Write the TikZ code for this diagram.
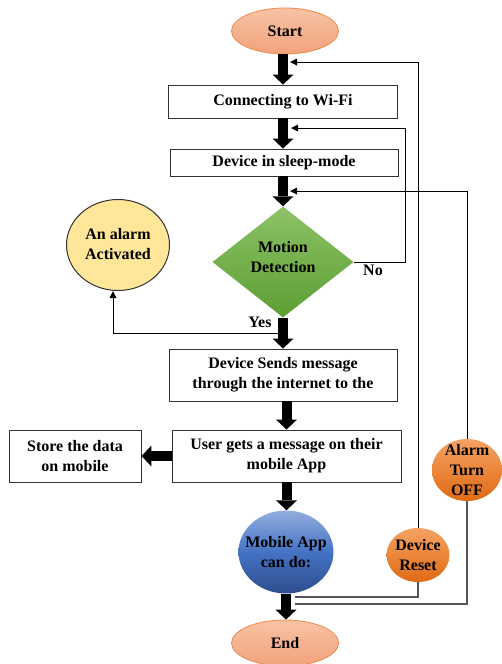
\documentclass[tikz,border=0pt]{standalone}
\usepackage{fontspec}
\setmainfont{Liberation Serif}
\usetikzlibrary{shapes.geometric,arrows.meta,calc}
\definecolor{boxline}{HTML}{333333}
\definecolor{linegray}{HTML}{555555}
\definecolor{salmontop}{HTML}{F7C3A5}
\definecolor{salmonbot}{HTML}{F2A27C}
\definecolor{salmonline}{HTML}{EE8A4E}
\definecolor{alarmfill}{HTML}{FFE699}
\definecolor{greentop}{HTML}{8CC266}
\definecolor{greenbot}{HTML}{5C9E32}
\definecolor{bluetop}{HTML}{93AEDE}
\definecolor{bluemid}{HTML}{4472C4}
\definecolor{bluebot}{HTML}{2E4E8E}
\definecolor{orangetop}{HTML}{F5A262}
\definecolor{orangebot}{HTML}{E06A14}
\begin{document}
\begin{tikzpicture}[x=1pt,y=-1pt,
  font=\fontsize{16}{20}\selectfont\bfseries,
  box/.style={draw=boxline, line width=0.9pt, fill=white, inner sep=0pt, align=center},
  term/.style={ellipse, draw=salmonline, line width=0.8pt, top color=salmontop, bottom color=salmonbot, minimum width=107pt, minimum height=46pt, inner sep=0pt},
  roundshape/.style={ellipse, inner sep=0pt},
  bigarrow/.style={line width=10pt, draw=black, -{Triangle[length=10pt,width=21pt,line width=0pt]}},
  thinarrow/.style={line width=1pt, -{Triangle[length=7pt,width=7pt,line width=0pt]}, color=black},
  plainline/.style={line width=1.2pt, draw=linegray},
  lbl/.style={inner sep=0pt, align=center}
]
\useasboundingbox (0,0) rectangle (502,664);

% main chain
\node[term] (start) at (285,31) {Start};
\node[box, minimum width=229pt, minimum height=33pt] (wifi) at (283,101.5) {Connecting to Wi-Fi};
\node[box, minimum width=228pt, minimum height=27pt] (sleep) at (284,162.5) {Device in sleep-mode};
\node[diamond, shape aspect=1.27, minimum width=141pt, minimum height=111pt, inner sep=0pt,
      top color=greentop, bottom color=greenbot,
      label={[lbl,yshift=5pt]center:{Motion\\Detection}}] (motion) at (283,262) {};
\node[box, minimum width=228pt, minimum height=52pt] (sends) at (283,375) {Device Sends message\\through the internet to the};
\node[box, minimum width=229pt, minimum height=52pt] (user) at (286.5,456) {User gets a message on their\\mobile App};
\node[box, minimum width=132pt, minimum height=52pt] (store) at (75,456) {Store the data\\on mobile};
\node[roundshape, minimum width=95pt, minimum height=83pt, top color=bluetop, bottom color=bluebot, middle color=bluemid,
      label={[lbl]center:{Mobile App\\can do:}}] (mobile) at (286,552) {};
\node[term] (end) at (285,643) {End};

% side nodes
\node[roundshape, draw=boxline, line width=1pt, fill=alarmfill, minimum width=103pt, minimum height=91pt,
      label={[lbl,yshift=1pt]center:{An alarm\\Activated}}] (alarm) at (118,245) {};
\node[roundshape, minimum width=63pt, minimum height=54pt, top color=orangetop, bottom color=orangebot,
      label={[lbl]center:{Device\\Reset}}] (reset) at (418,555) {};
\node[roundshape, minimum width=70pt, minimum height=62pt, top color=orangetop, bottom color=orangebot,
      label={[lbl]center:{Alarm\\Turn\\OFF}}] (off) at (467,470) {};

% thick arrows
\draw[bigarrow] (start.south -| wifi.north) -- (wifi.north);
\draw[bigarrow] (wifi.south) -- (wifi.south |- sleep.north);
\draw[bigarrow] (sleep.south -| motion.north) -- (motion.north);
\draw[bigarrow] (motion.south) -- (motion.south |- sends.north);
\draw[bigarrow] (sends.south -| user.north) -- (user.north);
\draw[bigarrow] (user.west) -- (store.east);
\draw[bigarrow] (user.south) -- (user.south |- mobile.north);
\draw[bigarrow] (mobile.south) -- (mobile.south |- end.north);

% junction points on the thick shafts
\coordinate (j1) at (290,62);
\coordinate (j2) at (291,128);
\coordinate (j3) at (290,191);
\coordinate (yj) at (281,333);
\coordinate (j5) at (295,597);
\coordinate (j6) at (295,604);
\coordinate (nocorner) at (405,128);
\coordinate (alarmin) at (113,291);

% loops
\draw[thinarrow] (reset.north) |- (j1);
\draw[thinarrow] (motion.east) -| (nocorner) -- (j2);
\draw[thinarrow] (off.north) |- (j3);
\draw[thinarrow] (yj) -| (alarmin);
\draw[plainline] (reset.south) |- (j5);
\draw[plainline] (off.south) |- (j6);

% labels
\node[lbl] (nolbl) at (373,270) {No};
\node[lbl] (yeslbl) at (260,322) {Yes};
\end{tikzpicture}
\end{document}
